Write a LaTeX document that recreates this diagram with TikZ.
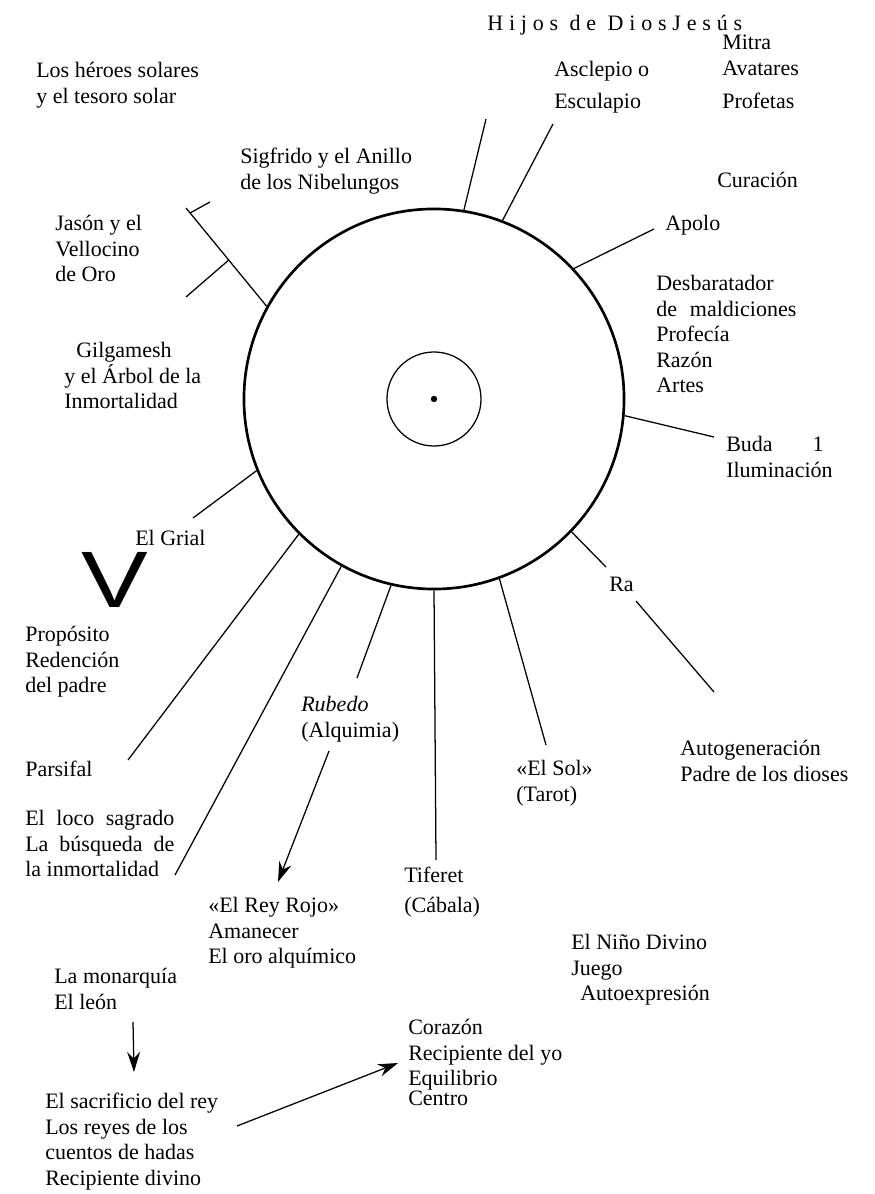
\documentclass[tikz,border=0pt]{standalone}
\usepackage{fontspec}
\usepackage{graphicx}
\setmainfont{Liberation Serif}
\newfontfamily\vfont{Liberation Sans}
\usetikzlibrary{arrows.meta,positioning}

\begin{document}
\begin{tikzpicture}
[x=0.025cm,y=-0.025cm,
txt/.style={anchor=north west,inner sep=0pt,align=left,font=\fontsize{15.65}{18.14}\selectfont},
spoke/.style={line width=0.9pt},
myarrow/.style={line width=0.9pt,-{Stealth[length=5mm,width=3.2mm]}}]

\useasboundingbox (0,0) rectangle (874,1194);

% the sun
\node (sun) [circle,draw,line width=1.9pt,inner sep=0pt,minimum size=9.5cm] at (434,399) {};
\node (core) [circle,draw,line width=0.9pt,inner sep=0pt,minimum size=2.35cm] at (sun) {};
\node (dot) [circle,fill,inner sep=0pt,minimum size=1.6mm] at (sun) {};

% free ends of the rays
\coordinate (asc) at (486,119);
\coordinate (esc) at (553,124);
\coordinate (apo) at (654,229);
\coordinate (bud) at (714,437);
\coordinate (rae) at (606,567);
\coordinate (sole) at (546,745);
\coordinate (tife) at (436,860);
\coordinate (rube) at (357,678);
\coordinate (loce) at (175,875);
\coordinate (pare) at (128,760);
\coordinate (grie) at (193,518);
\coordinate (jas) at (186,208);

\foreach \a/\e in {81/asc,69/esc,43/apo,-5/bud,-44/rae,-70/sole,-90/tife,-103/rube,-119/loce,-135/pare,-158/grie}
  \draw[spoke] (sun.\a) -- (\e);

\draw[spoke] (sun.151.5) -- coordinate[pos=0.47] (jmid) (jas);
\coordinate (jbr) at (186,297);
\coordinate (jknee) at (190,213);
\coordinate (jtick) at (210,202);
\draw[spoke] (jmid) -- (jbr);
\draw[spoke] (jknee) -- (jtick);

\coordinate (raA) at (636,601);
\coordinate (raB) at (714,692);
\draw[spoke] (raA) -- (raB);

% arrows
\coordinate (alqA) at (329,751);
\coordinate (alqB) at (278,882);
\draw[myarrow] (alqA) -- (alqB);
\coordinate (leonA) at (133,1022);
\coordinate (leonB) at (134,1072);
\draw[myarrow] (leonA) -- (leonB);
\coordinate (cueA) at (237,1126);
\coordinate (cueB) at (398,1063);
\draw[myarrow] (cueA) -- (cueB);

% labels
\node (hijos) [txt,font=\fontsize{15.65}{18.14}\selectfont\addfontfeatures{LetterSpace=26.5}] at (487,15) {Hijos de DiosJesús};
\node (mitra) [txt] at (722,35) {Mitra\\Avatares\\[0.18cm]Profetas};
\node (ascl) [txt] at (554,61) {Asclepio o\\[0.15cm]Esculapio};
\node (heroes) [txt] at (36,62) {Los héroes solares\\y el tesoro solar};
\node (sigf) [txt] at (240,148) {Sigfrido y el Anillo\\de los Nibelungos};
\node (cura) [txt] at (717,172) {Curación};
\node (jason) [txt] at (55,215) {Jasón y el\\Vellocino\\de Oro};
\node (apolo) [txt] at (665,215) {Apolo};
\node (desb) [txt] at (656,275) {Desbaratador\\\makebox[3.5cm][s]{de maldiciones}\\Profecía\\Razón\\Artes};
\node (gilg) [txt] at (64,342) {\hspace*{0.3cm}Gilgamesh\\y el Árbol de la\\Inmortalidad};
\node (buda) [txt] at (726,436) {\makebox[2.43cm][s]{Buda 1}\\Iluminación};
\node (grial) [txt] at (135,530) {El Grial};
\node (bigv) [anchor=north west,inner sep=0pt,font=\vfont\fontsize{56.9}{56.9}\selectfont] at (81,552) {\scalebox{1.25}[1]{V}};
\node (ra) [txt] at (609,577) {Ra};
\node (prop) [txt] at (25,626) {Propósito\\Redención\\del padre};
\node (rub) [txt] at (301,696) {\textit{Rubedo}\\(Alquimia)};
\node (autog) [txt] at (680,740) {Autogeneración\\Padre de los dioses};
\node (sol) [txt] at (516,760) {«El Sol»\\(Tarot)};
\node (pars) [txt] at (25,761) {Parsifal};
\node (loco) [txt] at (25,810) {\makebox[3.725cm][s]{El loco sagrado}\\\makebox[3.725cm][s]{La búsqueda de}\\la inmortalidad};
\node (tif) [txt] at (404,867) {Tiferet\\[0.1cm](Cábala)};
\node (rey) [txt] at (208,897) {«El Rey Rojo»\\Amanecer\\El oro alquímico};
\node (nino) [txt] at (571,934) {El Niño Divino\\Juego\\\hspace*{0.225cm}Autoexpresión};
\node (monarq) [txt] at (54,968) {La monarquía\\El león};
\node (cora) [txt] at (408,1019) {Corazón\\Recipiente del yo\\Equilibrio\\[-0.14cm]Centro};
\node (sacr) [txt] at (45,1093) {El sacrificio del rey\\Los reyes de los\\cuentos de hadas\\Recipiente divino};

\end{tikzpicture}
\end{document}
